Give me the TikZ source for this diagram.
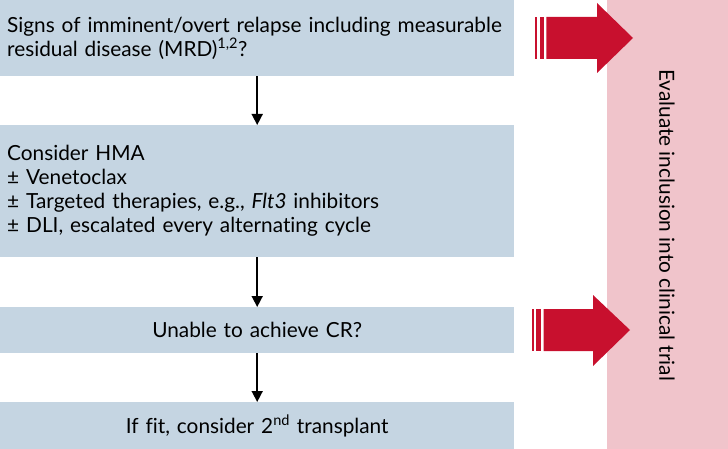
\documentclass[tikz,border=0pt]{standalone}
\usepackage{fontspec}
\setmainfont[Ligatures=NoCommon]{Lato}
\usetikzlibrary{arrows.meta}
\definecolor{boxc}{HTML}{C5D5E2}
\definecolor{pinkc}{HTML}{F0C4CB}
\definecolor{redc}{HTML}{C8102E}
\tikzset{
  box/.style={fill=boxc, draw=none, minimum width=514pt, anchor=north west, inner sep=0pt, font=\fontsize{20.8}{24}\selectfont},
  conn/.style={line width=1.6pt, -{Triangle[width=11pt,length=11pt]}},
  bigarrow/.style={fill=redc, draw=none}
}
\begin{document}
\begin{tikzpicture}[x=1pt,y=-1pt]
\useasboundingbox (0,0) rectangle (728,449);
\fill[pinkc] (607,0) rectangle (728,449);
\node[box, minimum height=76pt, text width=500pt, align=left] (b1) at (0,0)
  {Signs of imminent/overt relapse including measurable\\residual disease (MRD)\textsuperscript{1,2}?};
\node[box, minimum height=132pt, text width=500pt, align=left] (b2) at (0,125)
  {Consider HMA\\± Venetoclax\\± Targeted therapies, e.g., \textit{Flt3} inhibitors\\± DLI, escalated every alternating cycle};
\node[box, minimum height=46pt, text width=514pt, align=center] (b3) at (0,307)
  {Unable to achieve CR?};
\node[box, minimum height=47pt, text width=514pt, align=center] (b4) at (0,402)
  {If fit, consider 2\textsuperscript{nd} transplant};
\draw[conn] (b1.south) -- (b2.north);
\draw[conn] (b2.south) -- (b3.north);
\draw[conn] (b3.south) -- (b4.north);
% red arrows
\fill[bigarrow] (546.3,17) -- (597,17) -- (597,3) -- (633,38) -- (597,73) -- (597,59) -- (546.3,59) -- cycle;
\fill[bigarrow] (535,17) rectangle (537,59);
\fill[bigarrow] (539.7,17) rectangle (544.3,59);
\fill[bigarrow] (543.7,309) -- (593,309) -- (593,295) -- (630,330) -- (593,366) -- (593,351) -- (543.7,351) -- cycle;
\fill[bigarrow] (531.7,309) rectangle (534.3,351);
\fill[bigarrow] (536,309) rectangle (541,351);
\node[rotate=-90, font=\fontsize{20.8}{24}\selectfont] (trial) at (667,225) {Evaluate inclusion into clinical trial};
\end{tikzpicture}
\end{document}
